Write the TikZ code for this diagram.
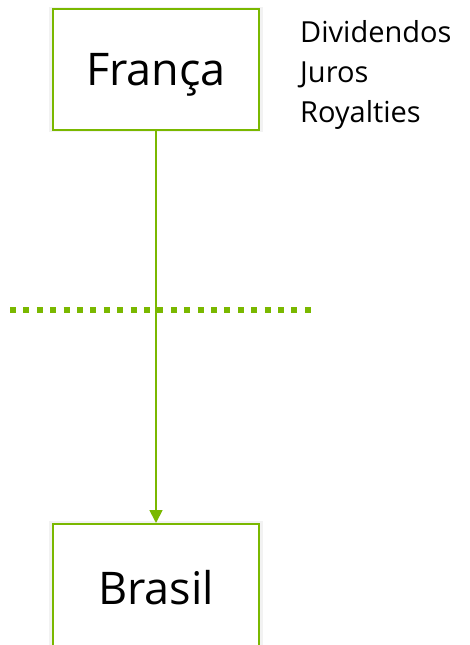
\documentclass[tikz,border=0pt]{standalone}
\usepackage{fontspec}
\setmainfont{Open Sans}
\usetikzlibrary{arrows.meta, positioning, shadows}

\definecolor{verde}{RGB}{122,184,0}

\begin{document}
\begin{tikzpicture}[
  x=1pt, y=-1pt,
  node distance=392pt and 40pt,
  pais/.style={rectangle, draw=verde, line width=2pt, fill=white, minimum width=206pt, minimum height=121pt, text depth=0pt, align=center, font=\fontsize{45}{54}\selectfont,
    drop shadow={shadow xshift=0pt, shadow yshift=0pt, shadow scale=1.04, opacity=0.1}},
  lista/.style={align=left, inner sep=0pt, font=\fontsize{29}{40}\selectfont},
  arrow/.style={-{Triangle[width=13pt, length=13pt]}, draw=verde, fill=verde, line width=1.8pt},
  pontilhado/.style={draw=verde, line width=6pt, dash pattern=on 6pt off 7.4pt},
]
\useasboundingbox (0,0) rectangle (470,645);

% Paises
\node[pais] (franca) at (156,69.5) {França};
\node[pais, minimum height=126pt, below=of franca] (brasil) {Brasil};

% Rendimentos
\node[lista, anchor=north west] (fluxos) at (300,20) {Dividendos\\Juros\\Royalties};

% Fronteira
\draw[pontilhado] (10,310) -- (312,310);

% Conexao
\draw[arrow] (franca) -- (brasil);

\end{tikzpicture}
\end{document}
